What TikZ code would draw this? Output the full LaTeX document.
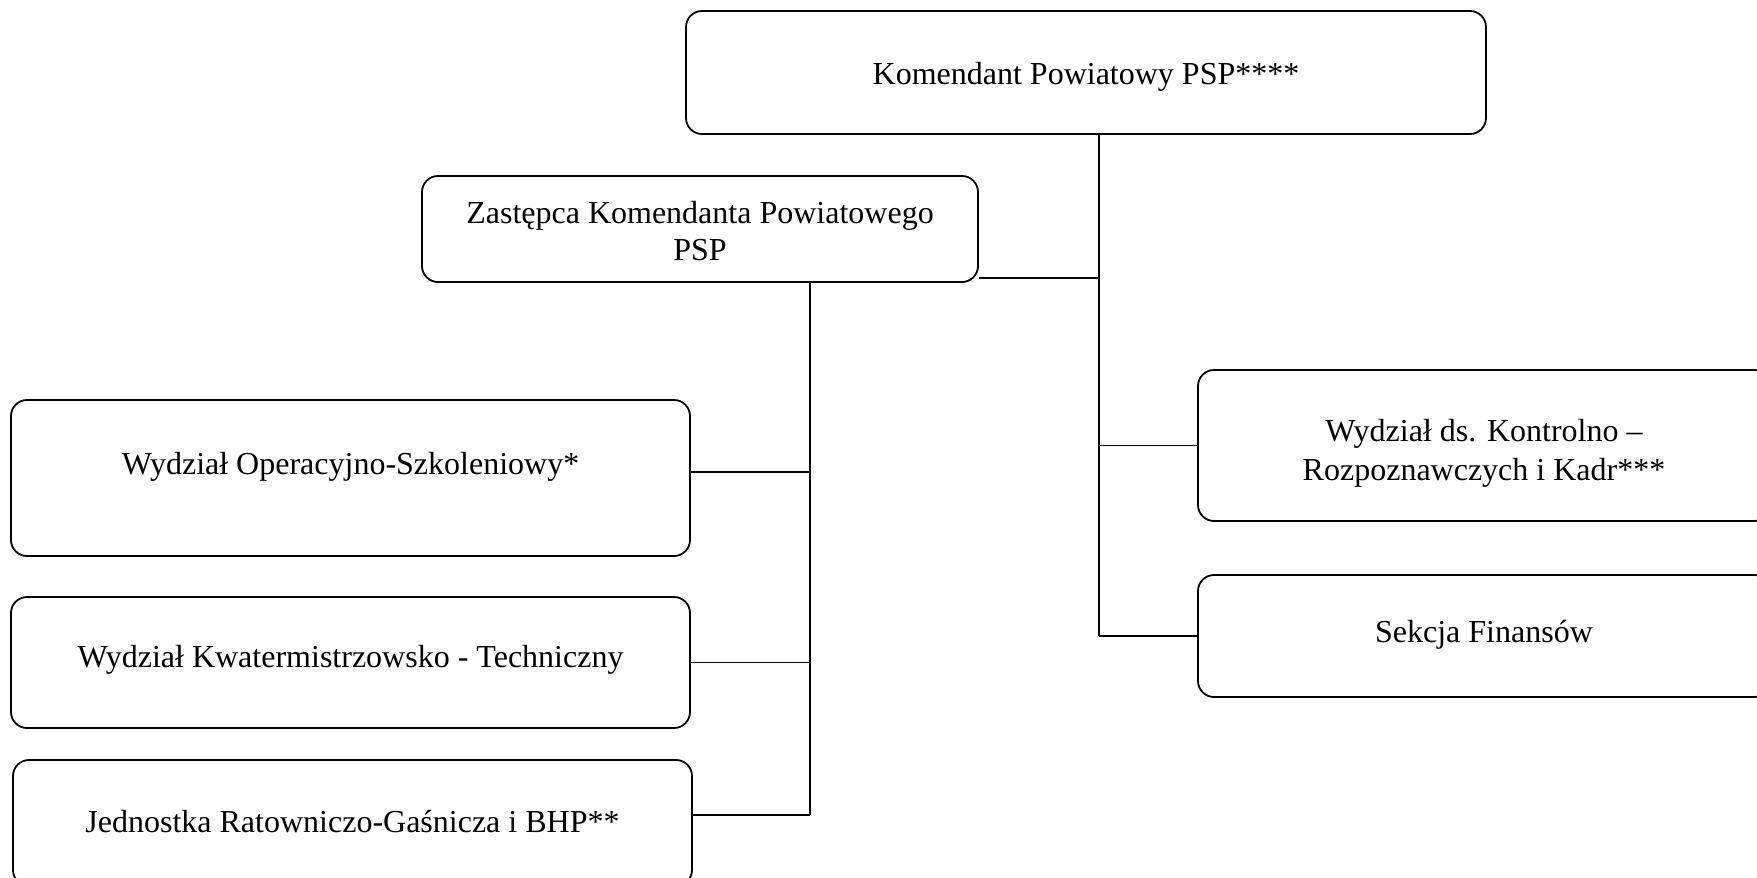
\documentclass[tikz,border=0pt]{standalone}
\usepackage{fontspec}
\setmainfont{Liberation Serif}
\newcommand{\shifttxt}[2]{\raisebox{#1}[0pt][0pt]{#2}}
\begin{document}
\begin{tikzpicture}[x=0.5pt,y=-0.5pt,
  box/.style={draw, rounded corners=8pt, line width=0.9pt, align=center,
    font=\fontsize{16}{18.5}\selectfont, inner sep=0pt},
  conn/.style={line width=0.7pt}]
\useasboundingbox (0,0) rectangle (1757,878);
\clip (0,0) rectangle (1757,878);
\node[box, minimum width=400pt, minimum height=61.5pt] (kom) at (1086,72.5) {\shifttxt{-6pt}{Komendant Powiatowy PSP****}};
\node[box, minimum width=278pt, minimum height=53pt] (zast) at (700,229) {\shifttxt{-7.3pt}{\begin{tabular}{@{}c@{}}Zastępca Komendanta Powiatowego\\PSP\end{tabular}}};
\node[box, minimum width=339.5pt, minimum height=78pt] (wop) at (350.5,478) {\shifttxt{1.7pt}{Wydział Operacyjno-Szkoleniowy*}};
\node[box, minimum width=339.5pt, minimum height=65.5pt] (kwat) at (350.5,662.5) {\shifttxt{-2.5pt}{Wydział Kwatermistrzowsko - Techniczny}};
\node[box, minimum width=339.5pt, minimum height=63pt] (jedn) at (352.5,823) {\shifttxt{-4.5pt}{Jednostka Ratowniczo-Gaśnicza i BHP**}};
\node[box, minimum width=286pt, minimum height=75.5pt] (kontr) at (1484,445.5) {\shifttxt{-8.2pt}{\fontsize{16}{19.5}\selectfont\begin{tabular}{@{}c@{}}Wydział ds. Kontrolno –\\Rozpoznawczych i Kadr***\end{tabular}}};
\node[box, minimum width=286pt, minimum height=61pt] (fin) at (1484,636) {\shifttxt{-3pt}{Sekcja Finansów}};
\coordinate (rsp) at (1099,0);
\coordinate (lsp) at (810,0);
\draw[conn] (kom.south -| rsp) -- (fin.west -| rsp);
\draw[conn] ([yshift=2.5pt]zast.south east) -- ([yshift=2.5pt]zast.south east -| rsp);
\draw[conn] (kontr.west) -- (kontr.west -| rsp);
\draw[conn] (fin.west) -- (fin.west -| rsp);
\draw[conn] (zast.south -| lsp) -- ([yshift=4pt]jedn.east -| lsp);
\draw[conn] ([yshift=3pt]wop.east) -- ([yshift=3pt]wop.east -| lsp);
\draw[conn] (kwat.east) -- (kwat.east -| lsp);
\draw[conn] ([yshift=4pt]jedn.east) -- ([yshift=4pt]jedn.east -| lsp);
\end{tikzpicture}
\end{document}
